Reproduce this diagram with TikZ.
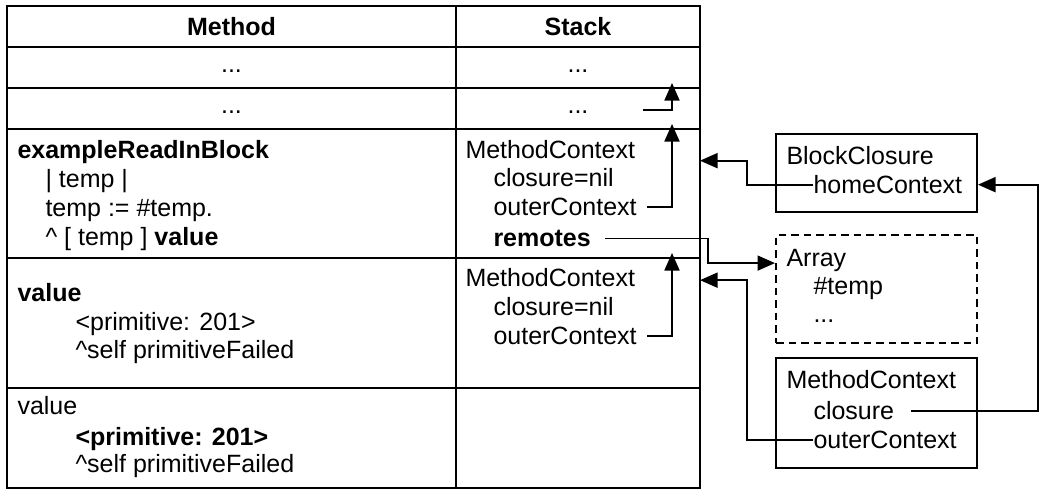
\documentclass[tikz,border=0pt]{standalone}
\usepackage{fontspec}
\setmainfont{Liberation Sans}
\usepackage{tikz}
\usetikzlibrary{arrows.meta}

\begin{document}
\begin{tikzpicture}[x=0.4pt, y=-0.4pt,
    every node/.style={font=\fontsize{10pt}{12pt}\selectfont},
    cell/.style={draw, line width=0.8pt, anchor=north west, inner sep=0pt, outer sep=0pt},
    wide/.style={cell, minimum width=179.6pt},
    narrow/.style={cell, minimum width=97.6pt},
    dots/.style={text height=4pt, text depth=0pt},
    obj/.style={draw, line width=0.8pt, anchor=north west, inner sep=0pt, minimum width=80.4pt},
    txt/.style={anchor=mid west, inner sep=0pt},
    arr/.style={line width=0.7pt, -{Triangle[length=7pt, width=6pt]}}]
    \useasboundingbox (0,0) rectangle (1041,493);

    % Table
    \node[wide, minimum height=16.4pt] (mhead) at (7,6) {\textbf{Method}};
    \node[narrow, minimum height=16.4pt] (shead) at (456,6) {\textbf{Stack}};
    \node[wide, dots, minimum height=16.4pt] (m1) at (7,47) {...};
    \node[narrow, dots, minimum height=16.4pt] (s1) at (456,47) {...};
    \node[wide, dots, minimum height=16.4pt] (m2) at (7,88) {...};
    \node[narrow, dots, minimum height=16.4pt] (s2) at (456,88) {...};
    \node[wide, minimum height=51.6pt] (m3) at (7,129) {};
    \node[narrow, minimum height=51.6pt] (s3) at (456,129) {};
    \node[wide, minimum height=52pt] (m4) at (7,258) {};
    \node[narrow, minimum height=52pt] (s4) at (456,258) {};
    \node[wide, minimum height=40pt] (m5) at (7,388) {};
    \node[narrow, minimum height=40pt] (s5) at (456,388) {};

    % Method column
    \node[txt] (sel3) at (17,152) {\textbf{exampleReadInBlock}};
    \node[txt] (tmp3) at (45,181) {\textbar{} temp \textbar};
    \node[txt] (asg3) at (45,210) {temp := \#temp.};
    \node[txt] (ret3) at (45,239) {\textasciicircum{} [ temp ] \textbf{value}};
    \node[txt] (sel4) at (17,295) {\textbf{value}};
    \node[txt] (prim4) at (75,324) {<primitive: 201>};
    \node[txt] (fail4) at (75,352) {\textasciicircum self primitiveFailed};
    \node[txt] (sel5) at (17,408) {value};
    \node[txt] (prim5) at (75,439) {\textbf{<primitive: 201>}};
    \node[txt] (fail5) at (75,466) {\textasciicircum self primitiveFailed};

    % Stack column
    \node[txt] (mc3) at (465,152) {MethodContext};
    \node[txt] (cl3) at (493,180) {closure=nil};
    \node[txt] (oc3) at (493,209) {outerContext};
    \node[txt] (rem) at (493,240) {\textbf{remotes}};
    \node[txt] (mc4) at (465,280) {MethodContext};
    \node[txt] (cl4) at (493,309) {closure=nil};
    \node[txt] (oc4) at (493,338) {outerContext};

    % Objects
    \node[obj, minimum height=31.2pt] (bcbox) at (775,133) {};
    \node[txt] (bctitle) at (786,158) {BlockClosure};
    \node[txt] (home) at (813,187) {homeContext};
    \node[obj, dash pattern=on 3pt off 2pt, minimum height=43.2pt] (arraybox) at (775,234) {};
    \node[txt] (atitle) at (786,260) {Array};
    \node[txt] (atemp) at (813,288) {\#temp};
    \node[txt] (adots) at (813,316) {...};
    \node[obj, minimum height=44pt] (mcbox) at (775,357) {};
    \node[txt] (mctitle) at (786,382) {MethodContext};
    \node[txt] (mcclos) at (813,413) {closure};
    \node[txt] (mcouter) at (813,442) {outerContext};

    % Turning points
    \coordinate (jog) at (672,0);
    \coordinate (jogr) at (708,0);
    \coordinate (jogl) at (747,0);
    \coordinate (jogo) at (1038,0);
    \coordinate (d2start) at (643,110);

    % Links
    \draw[arr, shorten >=-2pt] (d2start) -| (jog |- s1.south);
    \draw[arr, shorten <=4pt, shorten >=-2pt] (oc3.east) -| (jog |- s2.south);
    \draw[arr, shorten <=4pt, shorten >=-2pt] (oc4.east) -| (jog |- s3.south);
    \draw[arr, shorten <=5.5pt] (rem.east) -- (rem.east -| jogr) |- ([yshift=-1pt]arraybox.west |- atitle);
    \draw[arr] (home.west) -- (home.west -| jogl) |- ([yshift=-2pt]s3.east |- bctitle);
    \draw[arr] (mcouter.west) -- (mcouter.west -| jogl) |- ([yshift=-1pt]s4.east |- mc4);
    \draw[arr, shorten <=6.5pt] (mcclos.east) -- (mcclos.east -| jogo) |- (bcbox.east |- home);
\end{tikzpicture}
\end{document}
